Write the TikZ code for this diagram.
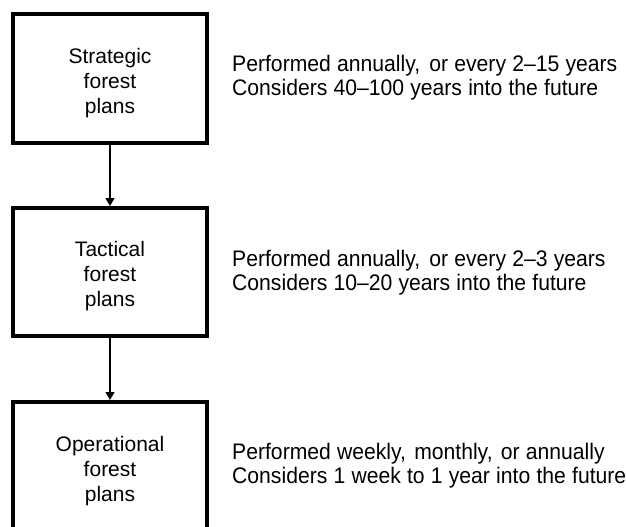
\documentclass[tikz,border=0pt]{standalone}
\usepackage{fontspec}
\setmainfont{Liberation Sans}
\newfontfamily\descfont[FakeStretch=0.94,Ligatures=TeX]{Liberation Sans}
\newcommand\mydescfont{\descfont\fontsize{22.5}{23.5}\selectfont\spaceskip=6.2pt plus 0.5pt minus 0.5pt\relax}
\usetikzlibrary{arrows.meta}
\begin{document}
\begin{tikzpicture}[x=1pt,y=-1pt,
  plan/.style={draw=black,line width=4pt,minimum width=194pt,inner sep=0pt},
  plantext/.style={align=center,inner sep=0pt,font=\fontsize{21}{25}\selectfont},
  desc/.style={anchor=base west,align=left,inner sep=0pt,font=\mydescfont},
  flow/.style={line width=1.3pt,-{Triangle[width=9pt,length=8pt]}}]
\useasboundingbox (0,0) rectangle (626,527);
\node[plan,minimum height=129pt] (b1) at (110,78.5) {};
\node[plan,minimum height=128pt] (b2) at (110,272) {};
\node[plan,minimum height=129pt] (b3) at (110,466.5) {};
\node[plantext] (t1) at ([yshift=-4.5pt]b1.center) {Strategic\\forest\\plans};
\node[plantext] (t2) at ([yshift=-4.5pt]b2.center) {Tactical\\forest\\plans};
\node[plantext] (t3) at ([yshift=-4.5pt]b3.center) {Operational\\forest\\plans};
\draw[flow] (b1.south) -- (b2.north);
\draw[flow] (b2.south) -- (b3.north);
\node[desc] (d1) at (232,95) {Performed annually,\hspace{3pt} or every 2–15 years\\Considers 40–100 years into the future};
\node[desc] (d2) at (232,290) {Performed annually,\hspace{3pt} or every 2–3 years\\Considers 10–20 years into the future};
\node[desc] (d3) at (232,483) {Performed weekly,\hspace{2pt} monthly,\hspace{2pt} or annually\\Considers 1 week to 1 year into the future};
\end{tikzpicture}
\end{document}
